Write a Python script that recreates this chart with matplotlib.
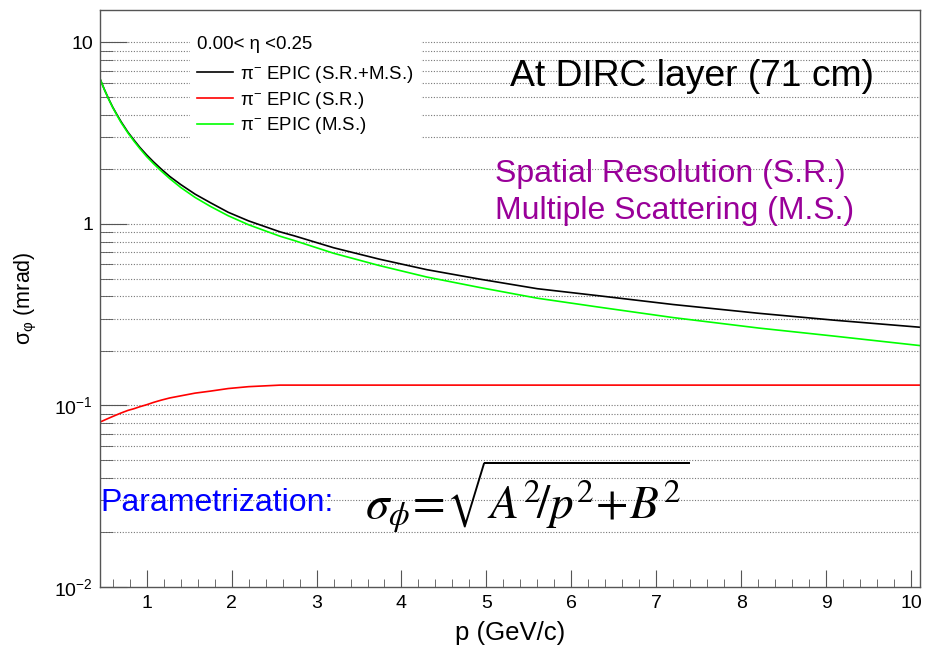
import numpy as np
import matplotlib
matplotlib.use("Agg")
from matplotlib import pyplot as plt
from matplotlib.font_manager import FontProperties
from matplotlib.ticker import FixedLocator, FixedFormatter, MultipleLocator

plt.rcParams['font.family'] = ['Liberation Sans', 'DejaVu Sans']
plt.rcParams['mathtext.fontset'] = 'custom'
plt.rcParams['mathtext.rm'] = 'Liberation Sans'
plt.rcParams['mathtext.it'] = 'Liberation Sans:italic'
plt.rcParams['mathtext.bf'] = 'Liberation Sans:bold'

# values
p = [0.45, 0.5, 0.55, 0.6, 0.65, 0.7, 0.78, 0.85, 0.92, 1.0, 1.08, 1.17, 1.27,
     1.4, 1.57, 1.75, 1.96, 2.2, 2.57, 2.74, 3.2, 3.74, 4.3, 4.92, 5.6, 6.33,
     7.2, 8.21, 9.1, 10.1]
sigma_tot = [6.31, 5.53, 4.91, 4.40, 4.0, 3.65, 3.2, 2.9, 2.64, 2.40, 2.2, 2.01,
             1.83, 1.65, 1.46, 1.31, 1.16, 1.04, 0.905, 0.86, 0.74, 0.64, 0.56,
             0.497, 0.44, 0.402, 0.36, 0.322, 0.295, 0.27]
sigma_sr = [0.081, 0.083, 0.085, 0.087, 0.089, 0.091, 0.094, 0.096, 0.0985, 0.101,
            0.104, 0.107, 0.110, 0.113, 0.117, 0.120, 0.124, 0.127, 0.1295,
            0.1295, 0.1295, 0.1295, 0.1295, 0.1295, 0.1295, 0.1295, 0.1295,
            0.1295, 0.1295, 0.1295]
sigma_ms = [6.31, 5.52, 4.89, 4.38, 3.97, 3.61, 3.17, 2.86, 2.60, 2.35, 2.15, 1.96,
            1.78, 1.59, 1.40, 1.25, 1.11, 0.99, 0.856, 0.81, 0.69, 0.59, 0.51,
            0.447, 0.39, 0.348, 0.305, 0.267, 0.241, 0.214]

labels = [r'π$^{-}$ EPIC (S.R.+M.S.)', r'π$^{-}$ EPIC (S.R.)', r'π$^{-}$ EPIC (M.S.)']
eta_bin = '0.00< η <0.25'
ytick_vals = [0.01, 0.1, 1, 10]
ytick_labels = ['10$^{-2}$', '10$^{-1}$', '1', '10']
minor_y = [m * 10.0**e for e in range(-2, 2) for m in range(2, 10)]

W, H = 930, 654
fig = plt.figure(figsize=(W / 100, H / 100), dpi=100)
ax = fig.add_axes([100 / W, 1 - 587 / H, 819.5 / W, 577 / H])

ax.plot(p, sigma_tot, color='black', lw=1.2)
ax.plot(p, sigma_sr, color='#ff0000', lw=1.2)
ax.plot(p, sigma_ms, color='#00ff00', lw=1.2)

ax.set_yscale('log')
ax.set_xlim(0.45, 10.1)
ax.set_ylim(0.01, 15.1)

ax.yaxis.set_major_locator(FixedLocator(ytick_vals))
ax.yaxis.set_major_formatter(FixedFormatter(ytick_labels))
ax.yaxis.set_minor_locator(FixedLocator(minor_y))
ax.yaxis.set_minor_formatter(plt.NullFormatter())
ax.xaxis.set_major_locator(MultipleLocator(1))
ax.xaxis.set_minor_locator(MultipleLocator(0.2))

ax.tick_params(axis='both', which='both', direction='in', color='#555555',
               top=False, right=False, labelsize=14)
ax.tick_params(axis='y', which='major', length=19.5, pad=5)
ax.tick_params(axis='y', which='minor', length=9.5)
ax.tick_params(axis='x', which='major', length=12.5, pad=6)
ax.tick_params(axis='x', which='minor', length=5.5)

for yv in ytick_vals + minor_y:
    if 0.01 < yv < 15:
        ax.axhline(yv, color='#777777', lw=0.8, ls=(0, (1, 1.5)), zorder=0)

for s in ax.spines.values():
    s.set_color('#555555')
    s.set_linewidth(1.0)

ax.set_xlabel('p (GeV/c)', fontsize=18.5, labelpad=6.5)
ax.set_ylabel(r'σ$_{\mathrm{φ}}$ (mrad)', fontsize=15.5, labelpad=11)

lp = FontProperties(family='Liberation Sans', size=13.4)
leg = ax.legend(ax.lines, labels, title=eta_bin, loc='upper left',
                bbox_to_anchor=(190 / W, 1 - 29 / H), bbox_transform=fig.transFigure,
                frameon=True, fancybox=False, edgecolor='none', facecolor='white',
                framealpha=1, borderpad=0.4, borderaxespad=0, handlelength=1.9,
                handletextpad=0.4, labelspacing=0.25, prop=lp,
                title_fontproperties=lp, alignment='left')
leg._legend_box.sep = 7.5  # extra gap below the eta header

fig.text(510 / W, 1 - 77 / H, 'At DIRC layer (71 cm)', fontsize=26.8,
         va='center', ha='left')
fig.text(495 / W, 1 - 174 / H, 'Spatial Resolution (S.R.)', fontsize=23,
         color='#990099', va='center', ha='left')
fig.text(495 / W, 1 - 211 / H, 'Multiple Scattering (M.S.)', fontsize=23,
         color='#990099', va='center', ha='left')
fig.text(100 / W, 1 - 503 / H, 'Parametrization:', fontsize=23,
         color='#0000ff', va='center', ha='left')
fig.text(365 / W, 1 - 497 / H,
         r'$\sigma_{\phi}\!=\!\sqrt{A^{2}\!/p^{2}\!+\!B^{2}}$',
         fontsize=34, math_fontfamily='stix', va='center', ha='left')

fig.savefig('out.png', dpi=100)
